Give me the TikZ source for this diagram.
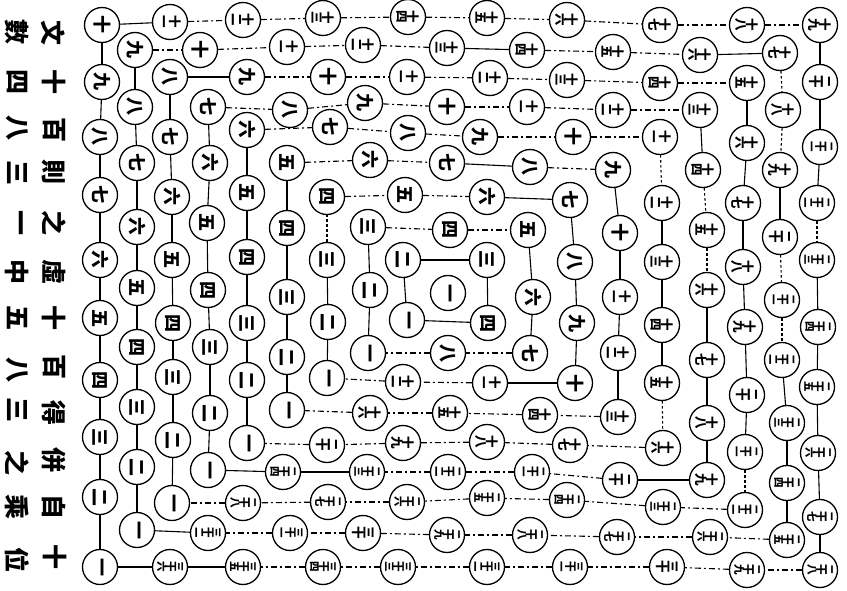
\documentclass[tikz,border=0pt]{standalone}
\usepackage{fontspec}
\usepackage{graphicx}
\newfontfamily\cjk{Noto Sans CJK SC}
\newcommand\one[1]{\rotatebox{-90}{#1}}
\newcommand\two[2]{\rotatebox{-90}{\vbox{\baselineskip=11pt\lineskiplimit=-50pt\lineskip=0pt\hbox{#1}\hbox{#2}}}}
\newcommand\three[3]{\rotatebox{-90}{\vbox{\baselineskip=8.6pt\lineskiplimit=-50pt\lineskip=0pt\hbox{#1}\hbox{#2}\hbox{#3}}}}
\newcommand\numtext[1]{\ifcase#1\or\one{一}\or\one{二}\or\one{三}\or\one{四}\or\one{五}\or\one{六}\or\one{七}\or\one{八}\or\one{九}\or\one{十}%
\or\two{十}{一}\or\two{十}{二}\or\two{十}{三}\or\two{十}{四}\or\two{十}{五}\or\two{十}{六}\or\two{十}{七}\or\two{十}{八}\or\two{十}{九}\or\two{二}{十}%
\or\three{二}{十}{一}\or\three{二}{十}{二}\or\three{二}{十}{三}\or\three{二}{十}{四}\or\three{二}{十}{五}\or\three{二}{十}{六}\or\three{二}{十}{七}\or\three{二}{十}{八}\or\three{二}{十}{九}\or\two{三}{十}%
\or\three{三}{十}{一}\or\three{三}{十}{二}\or\three{三}{十}{三}\or\three{三}{十}{四}\or\three{三}{十}{五}\or\three{三}{十}{六}\fi}
\newcommand\numfont[1]{\cjk\bfseries\ifnum#1<11 \fontsize{18}{18}\selectfont\else\ifnum#1<21 \fontsize{12.5}{11}\selectfont\else\ifnum#1=30 \fontsize{12.5}{11}\selectfont\else\fontsize{10.5}{8.6}\selectfont\fi\fi\fi}
\newcommand\C[4]{\node[cc,font=\numfont{#4}] (#1) at (#2,#3) {\numtext{#4}};}
\newcommand\ov[2]{\expandafter\def\csname ov#1\endcsname{#2}}
\ov{1-10}{lns}\ov{3-8}{lns}\ov{2-13}{lns}\ov{2-16}{lns}\ov{6-7}{lns}\ov{7-6}{lns}
\ov{9-2}{lns}\ov{9-4}{lns}\ov{7-10}{lns}\ov{1-35}{lns}\ov{1-36}{lns}\ov{2-32}{lns}
\ov{4-23}{lns}\ov{4-24}{lns}\ov{4-19}{lns}
\ov{7-3}{lnd}\ov{4-14}{lnd}\ov{4-15}{lnd}\ov{2-17}{lnd}\ov{2-18}{lnd}\ov{2-20}{lnd}
\ov{2-21}{lnd}\ov{5-11}{lnd}\ov{5-15}{lnd}\ov{3-21}{lnd}\ov{1-22}{lnd}
\begin{document}
\begin{tikzpicture}[x=1pt,y=-1pt,
  cc/.style={circle,draw,line width=1.3pt,minimum size=35pt,inner sep=0pt,fill=white},
  hd/.style={font=\cjk\bfseries\fontsize{25}{25}\selectfont,inner sep=0pt},
  ln0/.style={line width=1.1pt},
  lns/.style={line width=1.1pt},
  ln1/.style={line width=1.1pt,dash pattern=on 6pt off 3pt on 2pt off 3pt},
  lnd/.style={line width=1.1pt,dash pattern=on 2.5pt off 2.5pt}]
\fill[white] (0,0) rectangle (847,591);
\useasboundingbox (0,0) rectangle (847,591);
% heading text (printed rotated a quarter turn clockwise)
\node[hd] (t1) at (17,32) {\one{數}};
\node[hd] (t2) at (17,82) {\one{四}};
\node[hd] (t3) at (17,128) {\one{八}};
\node[hd] (t4) at (17,173) {\one{三}};
\node[hd] (t5) at (17,223) {\one{一}};
\node[hd] (t6) at (17,272) {\one{中}};
\node[hd] (t7) at (17,318) {\one{五}};
\node[hd] (t8) at (17,370) {\one{八}};
\node[hd] (t9) at (17,410) {\one{三}};
\node[hd] (t10) at (17,463) {\one{之}};
\node[hd] (t11) at (17,507) {\one{乘}};
\node[hd] (t12) at (17,560) {\one{位}};
\node[hd] (u1) at (53,33) {\one{文}};
\node[hd] (u2) at (54,82) {\one{十}};
\node[hd] (u3) at (54,130) {\one{百}};
\node[hd] (u4) at (54,172) {\one{則}};
\node[hd] (u5) at (54,223) {\one{之}};
\node[hd] (u6) at (54,272) {\one{虛}};
\node[hd] (u7) at (54,318) {\one{十}};
\node[hd] (u8) at (54,367) {\one{百}};
\node[hd] (u9) at (54,413) {\one{得}};
\node[hd] (u10) at (54,460) {\one{併}};
\node[hd] (u11) at (54,507) {\one{自}};
\node[hd] (u12) at (55,557) {\one{十}};
% rings
\foreach[count=\k] \x/\y in {100/567,100/497,100/437,100/380,100/318,100/260,100/195,100/137,102/82,102/25,170/22,243/20,323/18,408/17,487/18,567/20,660/25,747/25,820/25,820/82,820/147,817/203,817/260,818/327,817/387,818/453,820/517,820/570,747/570,667/567,570/567,487/567,398/567,323/567,243/567,170/567}{\C{r1n\k}{\x}{\y}{\k}}
\foreach[count=\k] \x/\y in {137/530,137/467,137/407,137/347,137/288,137/227,137/163,135/107,135/50,200/50,287/47,363/45,447/48,527/50,613/52,700/55,780/53,783/110,780/170,780/237,782/300,782/360,787/423,787/483,787/540,710/537,617/537,530/535,447/535,363/533,290/533,208/533}{\C{r2n\k}{\x}{\y}{\k}}
\foreach[count=\k] \x/\y in {172/503,173/440,173/377,173/323,172/260,172/197,170/137,170/77,247/77,328/77,407/77,490/78,567/80,660/83,747/83,747/143,743/203,743/267,745/327,747/395,745/452,745/510,663/507,567/500,487/498,407/502,328/502,243/503}{\C{r3n\k}{\x}{\y}{\k}}
\foreach[count=\k] \x/\y in {208/470,210/413,210/347,208/290,207/223,210/163,208/107,290/110,365/103,447/107,527/107,613/110,700/110,703/170,707/230,707/290,707/360,707/423,707/480,620/480,532/472,448/472,367/472,283/472}{\C{r4n\k}{\x}{\y}{\k}}
\foreach[count=\k] \x/\y in {247/443,247/380,247/323,247/257,247/193,247/130,330/127,408/133,480/137,573/137,660/137,662/203,662/262,662/325,662/383,663/448,570/445,487/442,403/443,327/445}{\C{r5n\k}{\x}{\y}{\k}}
\foreach[count=\k] \x/\y in {287/410,287/357,287/297,287/228,287/163,370/160,447/163,530/167,613/170,620/233,620/297,618/353,618/417,540/415,450/413,370/413}{\C{r6n\k}{\x}{\y}{\k}}
\foreach[count=\k] \x/\y in {327/378,328/322,327/260,327/197,405/195,487/197,570/200,575/262,577/323,575/383,490/383,403/382}{\C{r7n\k}{\x}{\y}{\k}}
\foreach[count=\k] \x/\y in {368/353,370/290,368/227,450/230,528/230,533/297,530/353,448/353}{\C{r8n\k}{\x}{\y}{\k}}
\foreach[count=\k] \x/\y in {407/320,403/260,487/260,488/323}{\C{r9n\k}{\x}{\y}{\k}}
\C{c0}{448}{293}{1}
% connectors
\foreach \rr/\nn in {1/10,2/9,3/8,4/7,5/6,6/5,7/4,8/3,9/2}{
  \pgfmathtruncatemacro\mm{4*(\nn-1)}
  \foreach \i in {1,...,\mm}{
    \pgfmathtruncatemacro\j{\i==\mm ? 1 : \i+1}
    \pgfmathtruncatemacro\sd{\i<\nn ? 0 : (\i<2*\nn-1 ? 1 : (\i<3*\nn-2 ? 0 : 1))}
    \edef\st{\ifcsname ov\rr-\i\endcsname\csname ov\rr-\i\endcsname\else ln\sd\fi}
    \expandafter\draw\expandafter[\st] (r\rr n\i) -- (r\rr n\j);
  }
}
\end{tikzpicture}
\end{document}
